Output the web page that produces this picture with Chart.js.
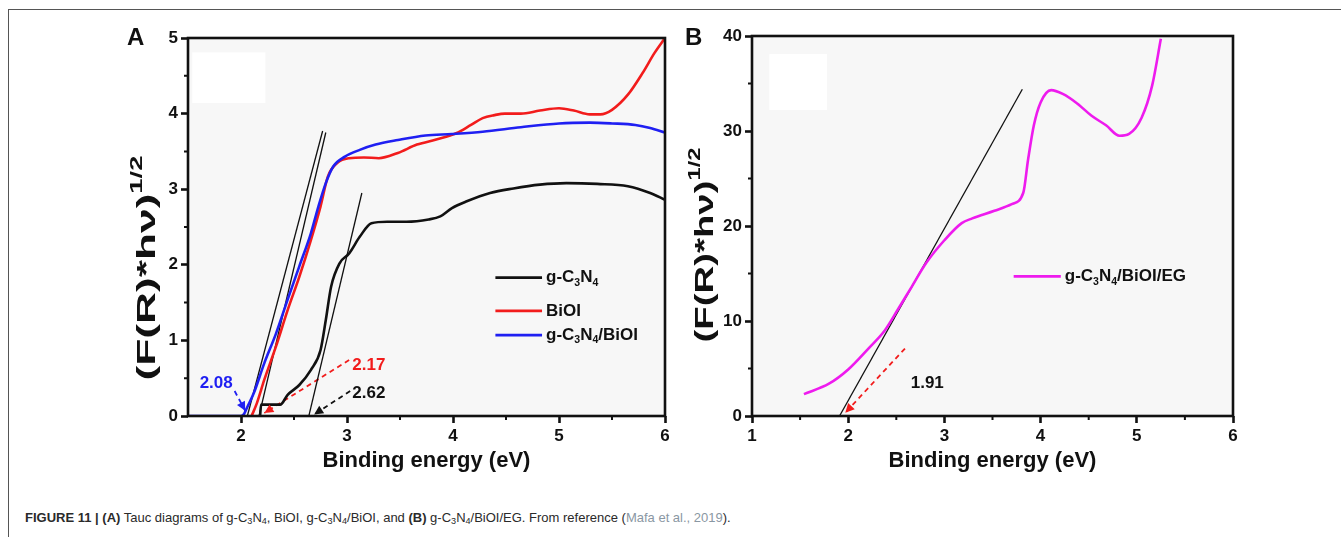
<!DOCTYPE html>
<html>
<head>
<meta charset="utf-8">
<script src="https://cdn.jsdelivr.net/npm/chart.js@4.4.1/dist/chart.umd.min.js"></script>
<style>
  body { margin: 0; background: #fff; width: 1341px; height: 537px; position: relative; overflow: hidden;
         font-family: "Liberation Sans", Arial, sans-serif; }
  #frame { position: absolute; left: 8px; top: 9px; right: 0; bottom: 0;
           border-top: 1px solid #555; border-left: 1px solid #555; }
  #wrapA { position: absolute; left: 0; top: 0; }
  #wrapB { position: absolute; left: 680px; top: 0; }
  #caption { position: absolute; left: 25px; top: 510px; font-size: 13px; color: #2a2a2a; white-space: nowrap; }
  #caption sub { font-size: 70%; vertical-align: -0.25em; line-height: 0; }
  #caption .ref { color: #8a97a3; }
</style>
</head>
<body>
<div id="frame"></div>
<div id="wrapA"><canvas id="chartA" width="680" height="480"></canvas></div>
<div id="wrapB"><canvas id="chartB" width="661" height="480"></canvas></div>
<div id="caption"><b>FIGURE 11 | (A)</b> Tauc diagrams of g-C<sub>3</sub>N<sub>4</sub>, BiOI, g-C<sub>3</sub>N<sub>4</sub>/BiOI, and <b>(B)</b> g-C<sub>3</sub>N<sub>4</sub>/BiOI/EG. From reference (<span class="ref">Mafa et al., 2019</span>).</div>

<script>
// ---- panel A data (eV vs (F(R)*hv)^1/2) ----
const gcnX = [2.18, 2.19, 2.37, 2.44, 2.55, 2.66, 2.75, 2.80, 2.85, 2.93, 3.02, 3.12, 3.23, 3.38, 3.56, 3.77, 3.88, 3.99, 4.13, 4.35, 4.57, 4.82, 5.07, 5.36, 5.65, 5.86, 6.0];
const gcnY = [0, 0.15, 0.15, 0.28, 0.41, 0.61, 0.87, 1.27, 1.71, 2.02, 2.15, 2.37, 2.55, 2.57, 2.57, 2.60, 2.64, 2.75, 2.84, 2.95, 3.01, 3.06, 3.08, 3.07, 3.04, 2.95, 2.86];

const bioiX = [2.10, 2.15, 2.22, 2.33, 2.44, 2.55, 2.66, 2.75, 2.82, 2.91, 3.02, 3.16, 3.30, 3.48, 3.66, 3.85, 4.03, 4.17, 4.28, 4.39, 4.49, 4.64, 4.82, 5.0, 5.14, 5.29, 5.39, 5.50, 5.65, 5.79, 5.90, 6.0];
const bioiY = [0, 0.17, 0.48, 0.92, 1.40, 1.84, 2.33, 2.77, 3.17, 3.35, 3.41, 3.42, 3.41, 3.48, 3.59, 3.66, 3.74, 3.85, 3.94, 3.98, 4.0, 4.0, 4.04, 4.07, 4.04, 3.99, 3.99, 4.05, 4.25, 4.54, 4.80, 5.0];

const compX = [1.5, 2.0, 2.03, 2.06, 2.12, 2.22, 2.33, 2.44, 2.55, 2.66, 2.73, 2.80, 2.87, 2.98, 3.12, 3.27, 3.48, 3.74, 3.99, 4.28, 4.64, 5.0, 5.29, 5.5, 5.72, 5.86, 6.0];
const compY = [0, 0, 0.03, 0.12, 0.30, 0.70, 1.09, 1.54, 1.98, 2.42, 2.77, 3.08, 3.30, 3.43, 3.52, 3.59, 3.65, 3.71, 3.73, 3.76, 3.82, 3.87, 3.88, 3.87, 3.85, 3.81, 3.75];

// tangent lines and dashed pointers, [x, y] pairs
const tangentsA = [
  [[2.06, 0], [2.77, 3.77]],
  [[2.17, 0], [2.80, 3.75]],
  [[2.64, 0], [3.14, 2.95]]
];
const pointersA = [
  [[1.94, 0.33], [2.04, 0.07]],
  [[3.02, 0.74], [2.22, 0.04]],
  [[3.03, 0.33], [2.69, 0.02]]
];
const gapLabelsA = ['2.08', '2.17', '2.62'];

// ---- panel B data ----
const egX = [1.54, 1.80, 2.0, 2.21, 2.38, 2.51, 2.66, 2.81, 3.0, 3.18, 3.29, 3.52, 3.70, 3.82, 3.87, 3.93, 4.0, 4.11, 4.23, 4.38, 4.53, 4.68, 4.82, 4.92, 5.05, 5.16, 5.25];
const egY = [2.3, 3.4, 4.9, 7.1, 9.0, 11.1, 13.6, 16.1, 18.5, 20.3, 20.8, 21.6, 22.3, 23.5, 27.0, 30.6, 33.0, 34.3, 33.9, 32.9, 31.6, 30.6, 29.5, 29.7, 31.4, 34.8, 39.7];
const tangentB = [[1.91, 0], [3.81, 34.4]];
const pointerB = [[2.59, 7.1], [1.97, 0.35]];
const gapLabelB = '1.91';

// ticks
const xTicksA = [2, 3, 4, 5, 6];
const xMinorA = [2.5, 3.5, 4.5, 5.5];
const yTicksA = [0, 1, 2, 3, 4, 5];
const yMinorA = [0.5, 1.5, 2.5, 3.5, 4.5];
const xTicksB = [1, 2, 3, 4, 5, 6];
const xMinorB = [1.5, 2.5, 3.5, 4.5, 5.5];
const yTicksB = [0, 10, 20, 30, 40];
const yMinorB = [5, 15, 25, 35];

const FONT = '"Liberation Sans", Arial, Helvetica, sans-serif';
const BLACK = '#111111', RED = '#f21c1c', BLUE = '#1f1ff2', MAGENTA = '#ee1bee';

function pts(xs, ys) { return xs.map((x, i) => ({ x: x, y: ys[i] })); }
function pairPts(p) { return p.map(q => ({ x: q[0], y: q[1] })); }

// draw text with sub/superscript parts; returns width
function richWidth(ctx, parts, size) {
  let w = 0;
  parts.forEach(([t, m]) => {
    ctx.font = 'bold ' + (m ? size * 0.62 : size) + 'px ' + FONT;
    w += ctx.measureText(t).width;
  });
  return w;
}
function drawRich(ctx, parts, x, y, size) {
  let cx = x;
  parts.forEach(([t, m]) => {
    ctx.font = 'bold ' + (m ? size * 0.62 : size) + 'px ' + FONT;
    const dy = m === 'sub' ? size * 0.32 : m === 'sup' ? -size * 0.42 : 0;
    ctx.fillText(t, cx, y + dy);
    cx += ctx.measureText(t).width;
  });
}

const yTitleParts = [['(F(R)*h\u03bd)', ''], ['1/2', 'sup']];
const xTitle = 'Binding energy (eV)';

const decor = {
  id: 'decor',
  beforeDraw(chart, args, o) {
    const { ctx, chartArea: a, scales: { x, y } } = chart;
    ctx.save();
    ctx.fillStyle = '#f7f7f7';
    ctx.fillRect(a.left, a.top, a.width, a.height);
    const p = o.patch;
    const px0 = x.getPixelForValue(p[0]), px1 = x.getPixelForValue(p[1]);
    const py0 = y.getPixelForValue(p[3]), py1 = y.getPixelForValue(p[2]);
    ctx.fillStyle = '#ffffff';
    ctx.fillRect(px0, py0, px1 - px0, py1 - py0);
    ctx.restore();
  },
  afterDatasetsDraw(chart, args, o) {
    const ctx = chart.ctx;
    // arrowheads on the dashed pointers
    chart.data.datasets.forEach((ds, i) => {
      if (!ds.arrow) return;
      const d = chart.getDatasetMeta(i).data;
      const p1 = d[d.length - 2], p2 = d[d.length - 1];
      const ang = Math.atan2(p2.y - p1.y, p2.x - p1.x);
      const L = 9, W = 4.5;
      ctx.save();
      ctx.translate(p2.x, p2.y);
      ctx.rotate(ang);
      ctx.fillStyle = ds.borderColor;
      ctx.beginPath();
      ctx.moveTo(0, 0);
      ctx.lineTo(-L, -W);
      ctx.lineTo(-L, W);
      ctx.closePath();
      ctx.fill();
      ctx.restore();
    });
  },
  afterDraw(chart, args, o) {
    const { ctx, chartArea: a, scales: { x, y } } = chart;
    ctx.save();
    // axis box
    ctx.strokeStyle = BLACK;
    ctx.lineWidth = 2.6;
    ctx.strokeRect(a.left, a.top, a.width, a.height);
    // minor ticks
    ctx.lineWidth = 2;
    ctx.beginPath();
    o.minorX.forEach(v => { const px = x.getPixelForValue(v); ctx.moveTo(px, a.bottom); ctx.lineTo(px, a.bottom + 4); });
    o.minorY.forEach(v => { const py = y.getPixelForValue(v); ctx.moveTo(a.left, py); ctx.lineTo(a.left - 4, py); });
    ctx.stroke();

    ctx.fillStyle = BLACK;
    // x title
    ctx.textAlign = 'center';
    ctx.textBaseline = 'middle';
    ctx.font = 'bold 22px ' + FONT;
    ctx.fillText(xTitle, (a.left + a.right) / 2, o.xTitleY);
    // y title (rotated, stretched along its length like the source figure)
    ctx.save();
    ctx.translate(o.yTitleX, o.yTitleCY);
    ctx.rotate(-Math.PI / 2);
    ctx.textAlign = 'left';
    const w = richWidth(ctx, yTitleParts, 26);
    ctx.scale(o.yTitleLen / w, 1);
    drawRich(ctx, yTitleParts, -w / 2, 0, 26);
    ctx.restore();
    // panel letter
    ctx.textAlign = 'left';
    ctx.font = 'bold 24px ' + FONT;
    ctx.fillText(o.letter, o.letterX, o.letterY);

    // legend
    o.legend.forEach(it => {
      const x0 = x.getPixelForValue(it.x0), x1 = x.getPixelForValue(it.x1), py = y.getPixelForValue(it.y);
      ctx.strokeStyle = it.color;
      ctx.lineWidth = 2.6;
      ctx.beginPath(); ctx.moveTo(x0, py); ctx.lineTo(x1, py); ctx.stroke();
      ctx.fillStyle = BLACK;
      drawRich(ctx, it.parts, x1 + 4, py, 17);
    });
    // band gap labels
    o.labels.forEach(l => {
      ctx.fillStyle = l.color;
      ctx.font = 'bold 17px ' + FONT;
      ctx.textAlign = 'left';
      ctx.fillText(l.text, x.getPixelForValue(l.x), y.getPixelForValue(l.y));
    });
    ctx.restore();
  }
};

function curve(data, color) {
  return { data: data, borderColor: color, borderWidth: 2.6, pointRadius: 0, cubicInterpolationMode: 'monotone', fill: false };
}
function straight(data) {
  return { data: data, borderColor: BLACK, borderWidth: 1.3, pointRadius: 0, fill: false };
}
function pointer(data, color) {
  return { data: data, borderColor: color, borderWidth: 1.8, borderDash: [5, 4], pointRadius: 0, fill: false, arrow: true };
}

function axes(xmin, xmax, xt, ymin, ymax, yt, yWidth) {
  const common = {
    type: 'linear',
    grid: { drawOnChartArea: false, drawTicks: true, tickLength: 7, tickWidth: 2.6, tickColor: BLACK },
    border: { display: false }
  };
  return {
    x: Object.assign({}, common, {
      min: xmin, max: xmax,
      afterBuildTicks: s => { s.ticks = xt.map(v => ({ value: v })); },
      afterFit: s => { s.height = 64; },
      ticks: { color: BLACK, font: { family: FONT, size: 17, weight: 'bold' }, padding: 3, maxRotation: 0 }
    }),
    y: Object.assign({}, common, {
      min: ymin, max: ymax,
      afterBuildTicks: s => { s.ticks = yt.map(v => ({ value: v })); },
      afterFit: s => { s.width = yWidth; },
      ticks: { color: BLACK, font: { family: FONT, size: 17, weight: 'bold' }, padding: 3 }
    })
  };
}

const sub = (t) => [t, 'sub'];
const txt = (t) => [t, ''];

new Chart(document.getElementById('chartA'), {
  type: 'line',
  data: {
    datasets: [
      curve(pts(compX, compY), BLUE),
      curve(pts(bioiX, bioiY), RED),
      curve(pts(gcnX, gcnY), BLACK),
      straight(pairPts(tangentsA[0])),
      straight(pairPts(tangentsA[1])),
      straight(pairPts(tangentsA[2])),
      pointer(pairPts(pointersA[0]), BLUE),
      pointer(pairPts(pointersA[1]), RED),
      pointer(pairPts(pointersA[2]), BLACK)
    ]
  },
  options: {
    responsive: false,
    animation: false,
    layout: { padding: { top: 38, right: 15, left: 0, bottom: 0 } },
    scales: axes(1.5, 6, xTicksA, 0, 5, yTicksA, 188),
    plugins: {
      legend: { display: false },
      tooltip: { enabled: false },
      decor: {
        patch: [1.54, 2.23, 4.14, 4.81],
        minorX: xMinorA, minorY: yMinorA,
        xTitleY: 461, yTitleX: 148, yTitleCY: 268, yTitleLen: 225,
        letter: 'A', letterX: 127, letterY: 38,
        legend: [
          { x0: 4.40, x1: 4.84, y: 1.83, color: BLACK, parts: [txt('g-C'), sub('3'), txt('N'), sub('4')] },
          { x0: 4.40, x1: 4.84, y: 1.39, color: RED, parts: [txt('BiOI')] },
          { x0: 4.40, x1: 4.84, y: 1.07, color: BLUE, parts: [txt('g-C'), sub('3'), txt('N'), sub('4'), txt('/BiOI')] }
        ],
        labels: [
          { text: gapLabelsA[0], x: 1.61, y: 0.43, color: BLUE },
          { text: gapLabelsA[1], x: 3.05, y: 0.67, color: RED },
          { text: gapLabelsA[2], x: 3.05, y: 0.30, color: BLACK }
        ]
      }
    }
  },
  plugins: [decor]
});

new Chart(document.getElementById('chartB'), {
  type: 'line',
  data: {
    datasets: [
      curve(pts(egX, egY), MAGENTA),
      straight(pairPts(tangentB)),
      pointer(pairPts(pointerB), RED)
    ]
  },
  options: {
    responsive: false,
    animation: false,
    layout: { padding: { top: 36, right: 108, left: 0, bottom: 0 } },
    scales: axes(1, 6, xTicksB, 0, 40, yTicksB, 72),
    plugins: {
      legend: { display: false },
      tooltip: { enabled: false },
      decor: {
        patch: [1.18, 1.78, 32.2, 38.1],
        minorX: xMinorB, minorY: yMinorB,
        xTitleY: 461, yTitleX: 26, yTitleCY: 245, yTitleLen: 195,
        letter: 'B', letterX: 5, letterY: 38,
        legend: [
          { x0: 3.72, x1: 4.21, y: 14.7, color: MAGENTA, parts: [txt('g-C'), sub('3'), txt('N'), sub('4'), txt('/BiOI/EG')] }
        ],
        labels: [
          { text: gapLabelB, x: 2.65, y: 3.4, color: BLACK }
        ]
      }
    }
  },
  plugins: [decor]
});
</script>
</body>
</html>
